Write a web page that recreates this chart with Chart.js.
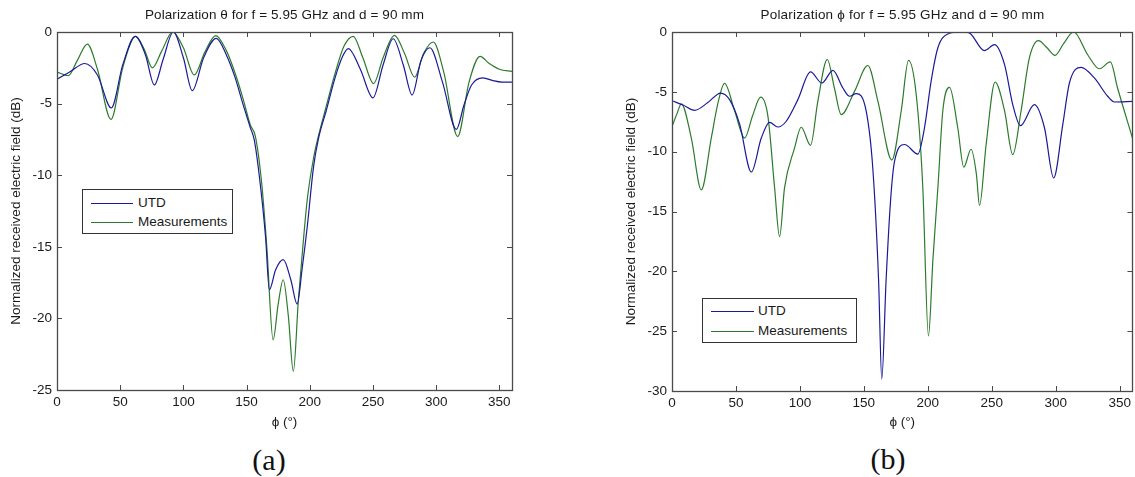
<!DOCTYPE html>
<html>
<head>
<meta charset="utf-8">
<script src="https://cdn.jsdelivr.net/npm/chart.js@4"></script>
<style>
  html, body { margin: 0; padding: 0; background: #fff; }
  #lienzo { position: relative; width: 1135px; height: 477px; overflow: hidden; font-family: "Liberation Sans", Arial, sans-serif; }
  canvas { position: absolute; top: 0; }
  .titulo { position: absolute; top: 6px; height: 18px; line-height: 18px; font-size: 13.5px; color: #1a1a1a; text-align: center; white-space: nowrap; }
  .titulo span { display: inline-block; }
  .leyenda { position: absolute; border: 1px solid #333; background: #fff; box-sizing: border-box; }
  .leyenda .fila { position: absolute; left: 0; height: 18px; width: 100%; }
  .leyenda .muestra { position: absolute; top: 9px; height: 0; border-top: 1px solid; }
  .leyenda .texto { position: absolute; top: 0; line-height: 18px; font-size: 13.5px; color: #1a1a1a; white-space: nowrap; }
  .subfig { position: absolute; font-family: "Liberation Serif", "Times New Roman", serif; font-size: 30px; color: #111; transform: translate(-50%, -50%); }
</style>
</head>
<body>
<div id="lienzo">
  <canvas id="grafico-a" width="567" height="440" style="left:0px"></canvas>
  <canvas id="grafico-b" width="520" height="440" style="left:615px"></canvas>

  <div class="titulo" style="left:57px;width:455px"><span id="titulo-a" data-ancho="279">Polarization θ for f = 5.95 GHz and d = 90 mm</span></div>
  <div class="titulo" style="left:672px;width:461px"><span id="titulo-b" data-ancho="284">Polarization ϕ for f = 5.95 GHz and d = 90 mm</span></div>

  <div class="leyenda" style="left:82px;top:189px;width:151px;height:45px">
    <div class="fila" style="top:4px"><div class="muestra" style="left:8px;width:42px;border-color:#1a1a99"></div><div class="texto" style="left:55px">UTD</div></div>
    <div class="fila" style="top:23px"><div class="muestra" style="left:8px;width:42px;border-color:#2b7b2b"></div><div class="texto" style="left:55px">Measurements</div></div>
  </div>
  <div class="leyenda" style="left:702px;top:298px;width:155px;height:45px">
    <div class="fila" style="top:3px"><div class="muestra" style="left:8px;width:43px;border-color:#1a1a99"></div><div class="texto" style="left:55px">UTD</div></div>
    <div class="fila" style="top:23px"><div class="muestra" style="left:8px;width:43px;border-color:#2b7b2b"></div><div class="texto" style="left:55px">Measurements</div></div>
  </div>

  <div class="subfig" style="left:269px;top:460px">(a)</div>
  <div class="subfig" style="left:888px;top:459px">(b)</div>
</div>

<script>
// (a) polarizacion theta
var angUtdA = [0, 10, 22, 32, 43, 52, 62, 70, 77, 84, 92, 100, 107, 116, 126, 134, 141, 147, 153, 156, 160, 165, 168, 173, 179, 185, 190, 194, 198, 203, 207, 213, 220, 226, 230.5, 240, 250, 258, 266, 274, 281, 288, 295, 305, 316, 322, 328, 337, 345, 352, 360];
var utdA = [-3.3, -2.8, -2.2, -3.0, -5.3, -2.3, -0.3, -1.6, -3.7, -1.9, 0, -1.8, -4.1, -1.8, -0.45, -1.6, -3.2, -5.0, -6.7, -7.5, -10, -14.3, -18.0, -16.6, -15.9, -17.3, -19.0, -16.5, -13.6, -9.4, -7.4, -5.5, -3.2, -1.7, -1.16, -2.6, -4.6, -2.3, -0.47, -2.3, -4.4, -2.0, -1.1, -3.5, -6.8, -5.1, -3.7, -3.2, -3.4, -3.5, -3.5];

var angMedA = [0, 9, 16, 24, 32, 42.7, 52, 62, 69, 75.4, 83, 91.5, 100, 108.6, 117, 125.6, 134, 141, 147, 153, 157, 162, 166, 171, 175, 179, 183, 187, 191, 195, 198, 203, 207, 213, 220, 227, 234.4, 242, 250.5, 258, 267, 275, 283, 290, 297.7, 306, 317, 326, 334.7, 342, 350, 360];
var medA = [-2.8, -3.05, -2.0, -0.85, -2.6, -6.1, -2.5, -0.3, -1.2, -2.5, -1.3, 0, -1.1, -3.0, -1.4, -0.25, -1.3, -2.9, -4.6, -6.5, -7.3, -10.6, -15, -21.5, -19.0, -17.3, -19.8, -23.7, -18.7, -14.5, -11.7, -8.8, -7.2, -5.2, -2.9, -1.0, -0.3, -1.8, -3.6, -1.8, -0.23, -1.5, -3.16, -1.5, -0.7, -2.8, -7.3, -3.5, -1.7, -2.2, -2.6, -2.75];

// (b) polarizacion phi
var angUtdB = [0, 8.6, 17.7, 28, 38, 45, 52.9, 62, 69.8, 76.3, 82.8, 89, 98.4, 108.3, 117.2, 125.8, 133.6, 138.8, 144, 151.8, 157, 161.5, 164, 167.4, 171, 174, 181.8, 192.2, 197.4, 202.6, 207.8, 215.6, 226, 232, 244.3, 252.1, 260, 266.4, 272.4, 283.3, 291.2, 298.4, 305.5, 310.7, 319.8, 330.2, 340.6, 345.9, 360];
var utdB = [-5.74, -6.1, -6.55, -5.9, -5.1, -5.65, -7.7, -11.7, -8.86, -7.55, -7.94, -7.5, -5.65, -3.34, -4.26, -3.2, -4.68, -5.37, -5.15, -6.6, -11.4, -20.7, -29.0, -20.7, -13.9, -10.8, -9.4, -10.2, -8.0, -4.1, -1.34, -0.17, 0, -0.05, -1.56, -1.06, -2.73, -6.07, -7.83, -6.07, -8.0, -12.2, -7.74, -4.26, -2.95, -3.84, -5.37, -5.85, -5.8];

var angMedB = [0, 4, 7.3, 15.1, 22.9, 30.7, 36, 41.1, 49, 56.8, 63, 69.3, 75, 80.2, 84.1, 88, 95.8, 101, 108.3, 114, 121.4, 127, 132.3, 142.7, 153.1, 161, 171.9, 179.2, 184.9, 190.9, 196, 200.5, 204, 208, 211.7, 217, 223.4, 228.1, 233.8, 238, 240.4, 245.6, 252.6, 260, 266.4, 272.9, 279.4, 286.5, 293, 299.5, 306, 314, 325, 334.1, 342.7, 348.4, 360];
var medB = [-7.9, -6.8, -6.0, -8.86, -13.2, -8.86, -5.9, -4.3, -6.6, -8.86, -7.0, -5.45, -7.05, -13.0, -17.1, -13.0, -9.7, -7.96, -9.47, -5.8, -2.3, -4.7, -6.9, -4.96, -2.8, -5.8, -10.7, -6.6, -2.37, -5.2, -12.8, -25.4, -19.0, -12.8, -6.6, -4.62, -8.0, -11.3, -9.8, -11.9, -14.5, -9.4, -4.18, -6.6, -10.25, -6.6, -2.17, -0.72, -1.3, -1.95, -1.0, 0, -1.9, -3.07, -2.5, -4.7, -8.86];

var xTicks = [0, 50, 100, 150, 200, 250, 300, 350];

var FUENTE = '"Liberation Sans", Arial, sans-serif';
var COLOR_UTD = '#1a1a99';
var COLOR_MED = '#2b7b2b';

// caja alrededor del area y marcas de division hacia dentro, como en MATLAB
var marcoEjes = {
  id: 'marcoEjes',
  afterDraw: function (chart) {
    var ctx = chart.ctx;
    var area = chart.chartArea;
    var ejeX = chart.scales.x;
    var ejeY = chart.scales.y;
    ctx.save();
    ctx.strokeStyle = '#4a4a4a';
    ctx.lineWidth = 1;
    ctx.beginPath();
    ejeX.ticks.forEach(function (t) {
      var px = Math.round(ejeX.getPixelForValue(t.value)) + 0.5;
      ctx.moveTo(px, area.bottom); ctx.lineTo(px, area.bottom - 5);
      ctx.moveTo(px, area.top); ctx.lineTo(px, area.top + 5);
    });
    ejeY.ticks.forEach(function (t) {
      var py = Math.round(ejeY.getPixelForValue(t.value)) + 0.5;
      ctx.moveTo(area.left, py); ctx.lineTo(area.left + 5, py);
      ctx.moveTo(area.right, py); ctx.lineTo(area.right - 5, py);
    });
    ctx.stroke();
    ctx.lineWidth = 1.3;
    ctx.strokeRect(Math.round(area.left) + 0.5, Math.round(area.top) + 0.5,
      Math.round(area.right - area.left), Math.round(area.bottom - area.top));
    ctx.restore();
  }
};

function puntos_(angulos, valores) {
  return angulos.map(function (a, i) { return { x: a, y: valores[i] }; });
}

function serie_(etiqueta, color, angulos, valores) {
  return {
    label: etiqueta,
    data: puntos_(angulos, valores),
    borderColor: color,
    borderWidth: 1.2,
    pointRadius: 0,
    fill: false,
    cubicInterpolationMode: 'monotone'
  };
}

function crearGrafico_(idCanvas, series, yMin, padDerecha, altoEjeX) {
  return new Chart(document.getElementById(idCanvas), {
    type: 'line',
    data: { datasets: series },
    plugins: [marcoEjes],
    options: {
      responsive: false,
      animation: false,
      layout: { padding: { left: 0, right: padDerecha, top: 32, bottom: 0 } },
      plugins: {
        legend: { display: false },
        tooltip: { enabled: false }
      },
      scales: {
        x: {
          type: 'linear',
          min: 0,
          max: 360,
          afterFit: function (eje) { eje.height = altoEjeX; },
          afterBuildTicks: function (eje) { eje.ticks = xTicks.map(function (v) { return { value: v }; }); },
          grid: { display: false, drawTicks: false },
          border: { display: false },
          ticks: { color: '#1a1a1a', font: { family: FUENTE, size: 13.5 }, padding: 4, autoSkip: false, maxRotation: 0 },
          title: { display: true, text: 'ϕ (°)', color: '#1a1a1a', font: { family: FUENTE, size: 13.5 }, padding: { top: 0, bottom: 10 } }
        },
        y: {
          min: yMin,
          max: 0,
          afterFit: function (eje) { eje.width = 57; },
          grid: { display: false, drawTicks: false },
          border: { display: false },
          ticks: { stepSize: 5, color: '#1a1a1a', font: { family: FUENTE, size: 13.5 }, padding: 5 },
          title: { display: true, text: 'Normalized received electric field (dB)', color: '#1a1a1a', font: { family: FUENTE, size: 13.5 }, padding: { top: 8, bottom: 0 } }
        }
      }
    }
  });
}

// el titulo del original ocupa un ancho fijo; se ajusta el espaciado para igualarlo
function ajustarTitulo_(id) {
  var el = document.getElementById(id);
  var objetivo = parseFloat(el.getAttribute('data-ancho'));
  var ancho = el.getBoundingClientRect().width;
  var n = el.textContent.length;
  el.style.letterSpacing = ((objetivo - ancho) / n).toFixed(3) + 'px';
}

ajustarTitulo_('titulo-a');
ajustarTitulo_('titulo-b');

crearGrafico_('grafico-a', [
  serie_('UTD', COLOR_UTD, angUtdA, utdA),
  serie_('Measurements', COLOR_MED, angMedA, medA)
], -25, 55, 50);

crearGrafico_('grafico-b', [
  serie_('UTD', COLOR_UTD, angUtdB, utdB),
  serie_('Measurements', COLOR_MED, angMedB, medB)
], -30, 2, 49);
</script>
</body>
</html>
